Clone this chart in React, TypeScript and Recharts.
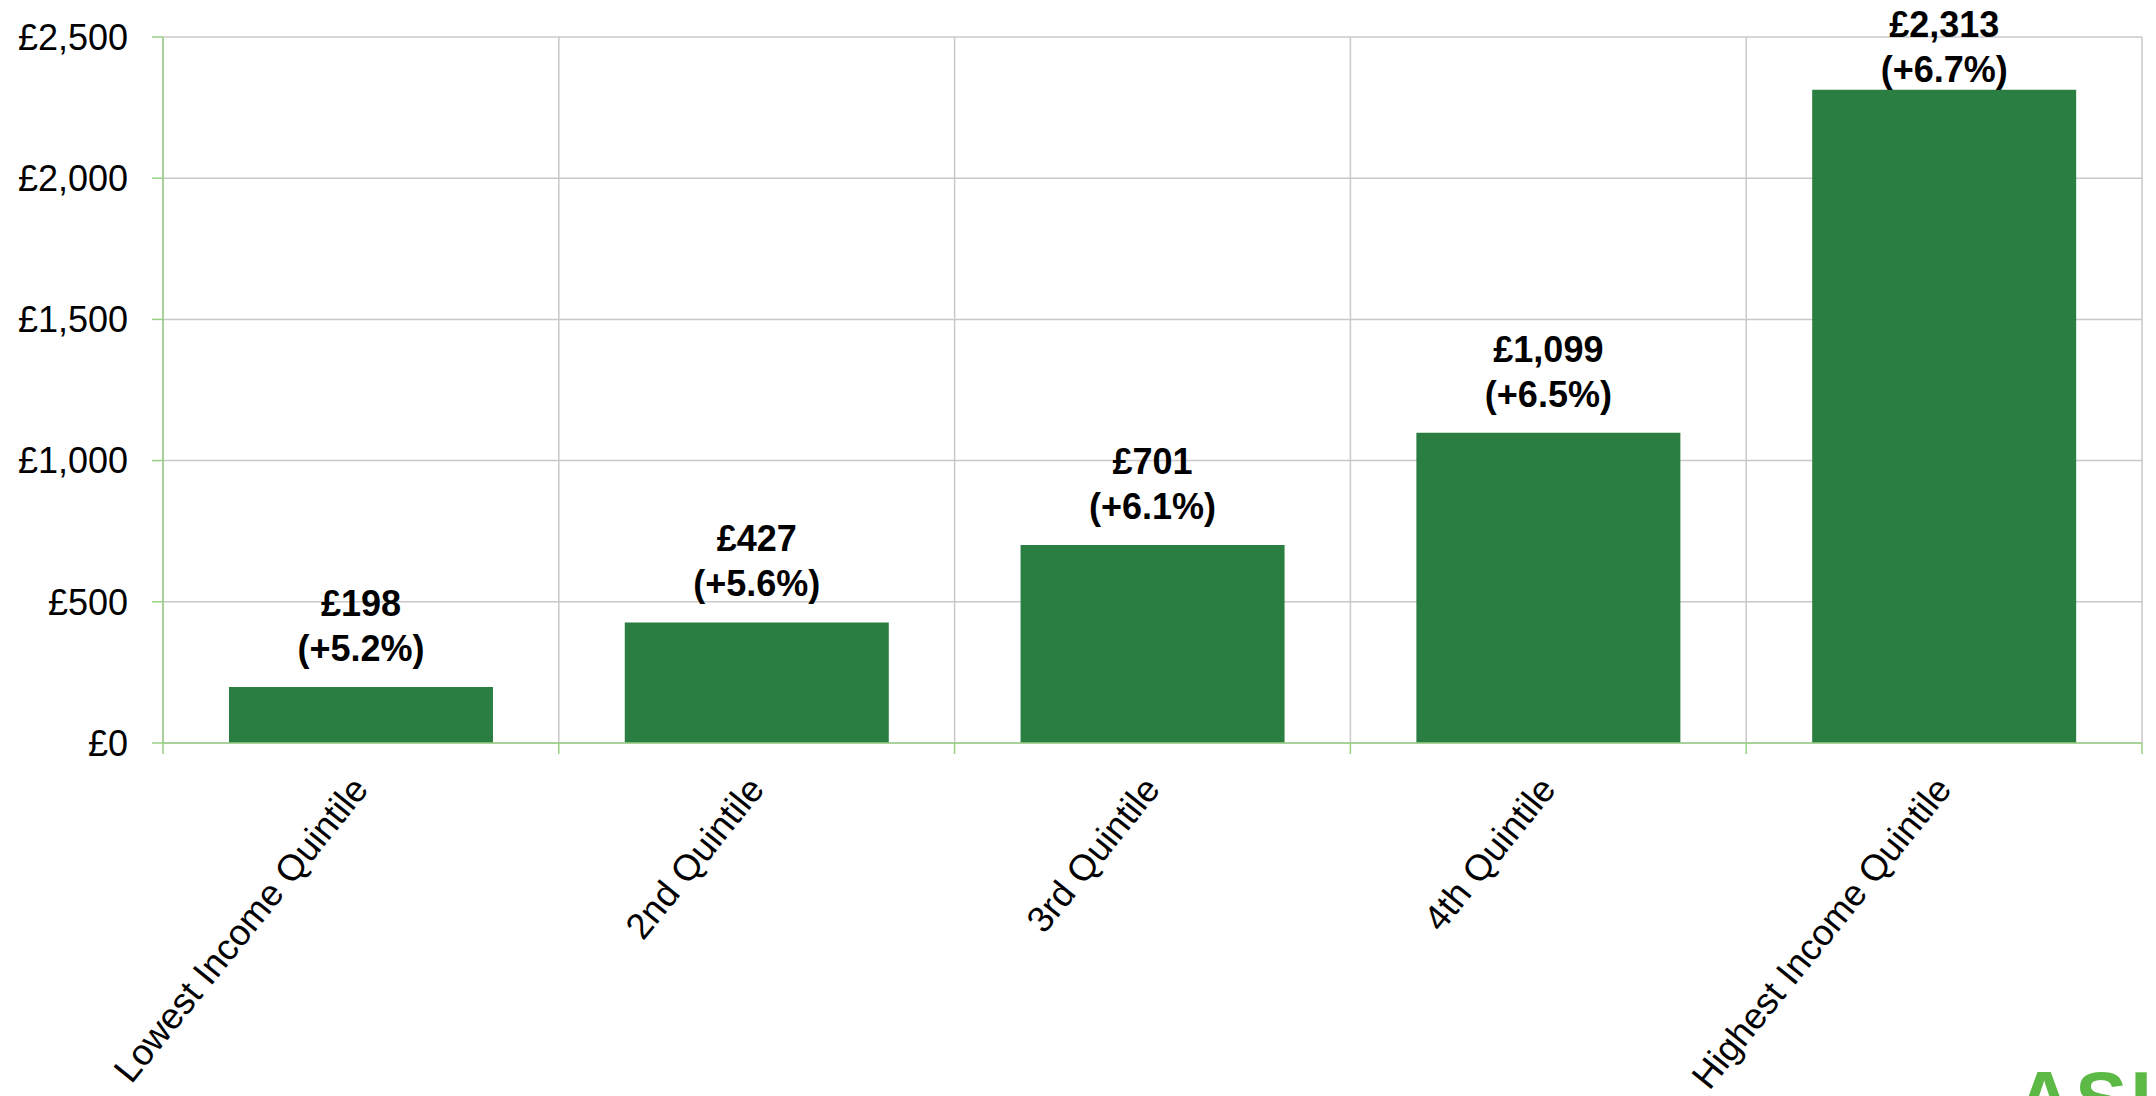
import React from "react";
import { BarChart, Bar, XAxis, YAxis, CartesianGrid, LabelList } from "recharts";

const categories = [
  "Lowest Income Quintile",
  "2nd Quintile",
  "3rd Quintile",
  "4th Quintile",
  "Highest Income Quintile",
];
const values = [198, 427, 701, 1099, 2313];
const pctChange = [5.2, 5.6, 6.1, 6.5, 6.7];
const yTicks = [0, 500, 1000, 1500, 2000, 2500];

const data = categories.map((name, i) => ({ name, value: values[i], pct: pctChange[i] }));

const W = 2156;
const H = 1096;
const MARGIN_TOP = 37;
const FONT = "'Liberation Sans', Arial, Helvetica, sans-serif";
const BAR = "#2a7e41";
const AXIS_GREEN = "#98d184";
const GRID = "#c8c8c8";

const fmtMoney = (v: number) => "£" + v.toLocaleString("en-GB");

const XTick = (props: any) => {
  const { x, y, payload, index } = props;
  const half = payload.offset || 0;
  const lineTop = y - 11;
  const lx = x + 9;
  const ly = y + 36;
  return (
    <g>
      <line x1={x - half} x2={x - half} y1={lineTop} y2={y} stroke={AXIS_GREEN} strokeWidth={1.5} />
      {index === categories.length - 1 && (
        <line x1={x + half} x2={x + half} y1={lineTop} y2={y} stroke={AXIS_GREEN} strokeWidth={1.5} />
      )}
      <text
        x={lx}
        y={ly}
        transform={`rotate(-51, ${lx}, ${ly})`}
        textAnchor="end"
        fontFamily={FONT}
        fontSize={36.5}
        fill="#000"
      >
        {payload.value}
      </text>
    </g>
  );
};

const renderLabel = (props: any) => {
  const { x, y, width, value, index } = props;
  const cx = x + width / 2;
  let b1 = y - 26 - 45;
  if (b1 < MARGIN_TOP) b1 = MARGIN_TOP;
  const b2 = b1 + 45;
  return (
    <g>
      <text x={cx} y={b1} textAnchor="middle" fontFamily={FONT} fontWeight="bold" fontSize={36} fill="#000">
        {fmtMoney(value)}
      </text>
      <text x={cx} y={b2} textAnchor="middle" fontFamily={FONT} fontWeight="bold" fontSize={36} fill="#000">
        {`(+${pctChange[index].toFixed(1)}%)`}
      </text>
    </g>
  );
};

export default function App() {
  return (
    <div style={{ position: "absolute", left: 0, top: 0, width: W, height: H, overflow: "hidden", background: "#fff" }}>
      <BarChart
        width={W}
        height={H}
        data={data}
        margin={{ top: MARGIN_TOP, right: 14, left: 0, bottom: 0 }}
        barCategoryGap="16.67%"
      >
        <CartesianGrid
          stroke={GRID}
          strokeWidth={1.5}
          verticalCoordinatesGenerator={({ offset }: any) => {
            const step = offset.width / categories.length;
            return [...categories.map((_, i) => offset.left + i * step), offset.left + offset.width];
          }}
        />
        <XAxis
          dataKey="name"
          height={353}
          interval={0}
          axisLine={{ stroke: AXIS_GREEN, strokeWidth: 1.5 }}
          tickLine={false}
          tickSize={11}
          tickMargin={0}
          tick={<XTick />}
        />
        <YAxis
          width={163}
          domain={[0, 2500]}
          ticks={yTicks}
          interval={0}
          tickFormatter={fmtMoney}
          axisLine={{ stroke: AXIS_GREEN, strokeWidth: 1.5 }}
          tickLine={{ stroke: AXIS_GREEN, strokeWidth: 1.5 }}
          tickSize={11}
          tickMargin={24}
          tick={{ fontFamily: FONT, fontSize: 36, fill: "#000" }}
        />
        <Bar dataKey="value" fill={BAR} isAnimationActive={false}>
          <LabelList dataKey="value" content={renderLabel} />
        </Bar>
      </BarChart>
      <svg width={W} height={H} style={{ position: "absolute", left: 0, top: 0, pointerEvents: "none" }}>
        <text x={2016} y={1126} fontFamily={FONT} fontWeight={900} fontSize={78} letterSpacing={3} fill="#5cb946">
          ASI
        </text>
      </svg>
    </div>
  );
}
